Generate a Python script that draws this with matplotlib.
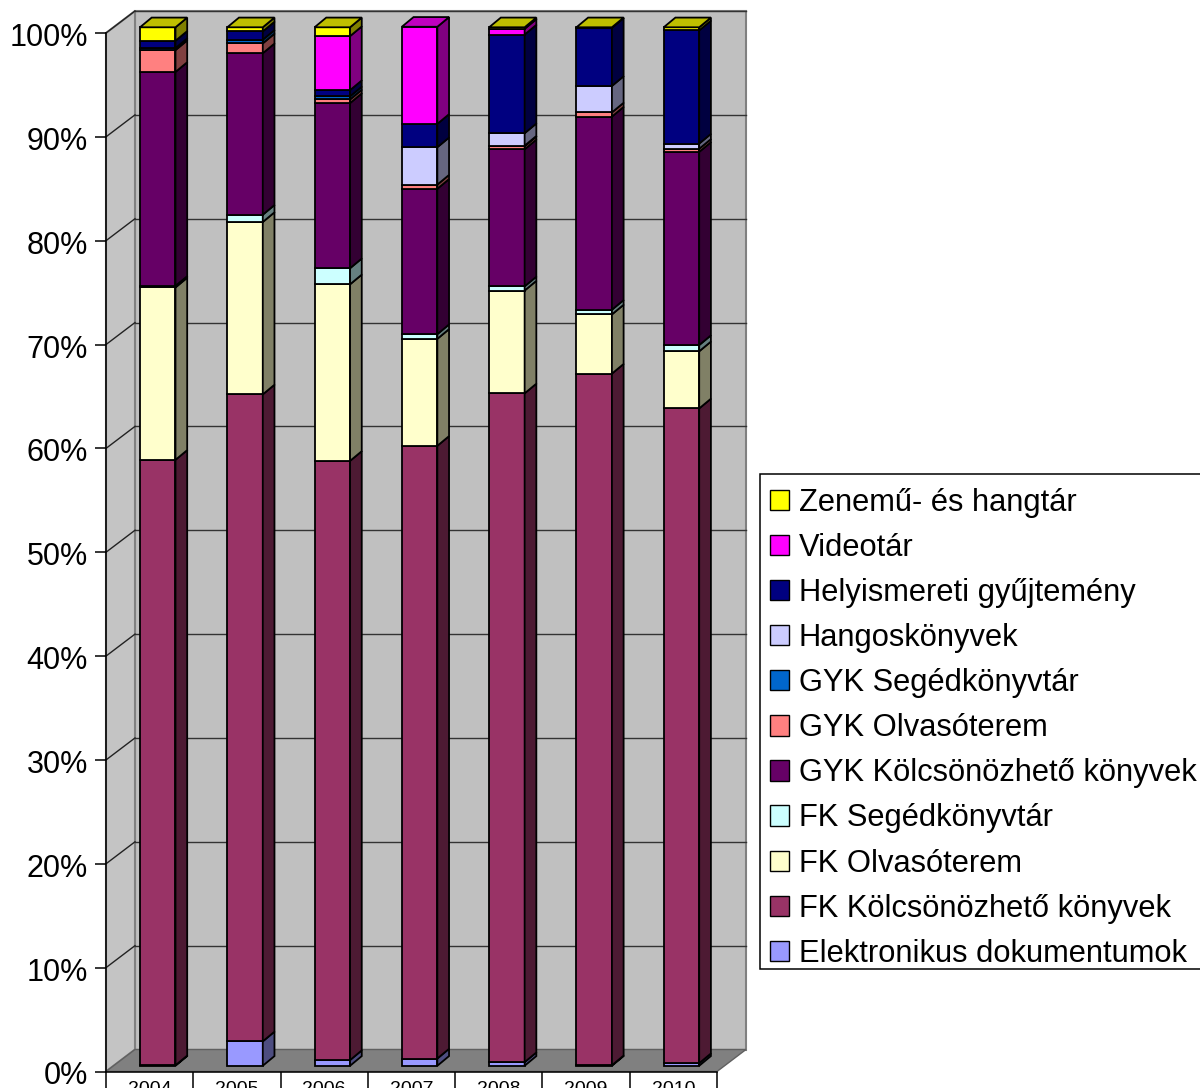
import numpy as np
import matplotlib
matplotlib.use('Agg')
import matplotlib.pyplot as plt
from matplotlib.colors import to_rgb
from matplotlib.patches import Patch, Rectangle
from matplotlib.transforms import ScaledTranslation

plt.rcParams['font.family'] = ['Liberation Sans', 'DejaVu Sans']

years = ['2004', '2005', '2006', '2007', '2008', '2009', '2010']

# százalékos megoszlás évenként
elektronikus = [0.05, 2.35, 0.55, 0.70, 0.35, 0.05, 0.25]
fk_kolcson = [58.3, 62.3, 57.7, 59.0, 64.4, 66.6, 63.05]
fk_olvaso = [16.6, 16.6, 17.0, 10.3, 9.9, 5.7, 5.5]
fk_segedk = [0.15, 0.7, 1.55, 0.45, 0.4, 0.45, 0.6]
gyk_kolcson = [20.6, 15.55, 15.9, 14.0, 13.2, 18.6, 18.6]
gyk_olvaso = [2.1, 0.95, 0.35, 0.4, 0.3, 0.4, 0.3]
gyk_segedk = [0.2, 0.35, 0.3, 0, 0.05, 0, 0]
hangos = [0, 0, 0, 3.6, 1.2, 2.55, 0.5]
helyism = [0.7, 0.8, 0.6, 2.25, 9.5, 5.6, 10.9]
video = [0, 0, 5.2, 9.35, 0.55, 0, 0]
zenemu = [1.3, 0.4, 0.85, 0, 0.15, 0.05, 0.3]

series = [elektronikus, fk_kolcson, fk_olvaso, fk_segedk, gyk_kolcson, gyk_olvaso,
          gyk_segedk, hangos, helyism, video, zenemu]
labels = ['Elektronikus dokumentumok', 'FK Kölcsönözhető könyvek', 'FK Olvasóterem',
          'FK Segédkönyvtár', 'GYK Kölcsönözhető könyvek', 'GYK Olvasóterem',
          'GYK Segédkönyvtár', 'Hangoskönyvek', 'Helyismereti gyűjtemény',
          'Videotár', 'Zenemű- és hangtár']
colors = ['#9999FF', '#993366', '#FFFFCC', '#CCFFFF', '#660066', '#FF8080',
          '#0066CC', '#CCCCFF', '#000080', '#FF00FF', '#FFFF00']

W, H = 1200, 1088
fig = plt.figure(figsize=(W / 100, H / 100), dpi=100)
ax = fig.add_axes([106 / W, 1 - 1071.5 / H, 611 / W, 1038.5 / H])
ax.set_xlim(0, 7)
ax.set_ylim(0, 100)
ax.patch.set_visible(False)

# a 3D hatás eltolásai adategységben
wall_dx, wall_dy = 29 / 87.3, 22 / 10.385
bar_dx, bar_dy = 11.7 / 87.3, 9.7 / 10.385
bar_left, bar_w, bar_base = 34 / 87.3, 35.5 / 87.3, 0.55

# falak, padló, rácsvonalak
ax.fill([wall_dx, 7 + wall_dx, 7 + wall_dx, wall_dx],
        [wall_dy, wall_dy, 100 + wall_dy, 100 + wall_dy],
        fc='#C0C0C0', ec='#808080', lw=1.5, clip_on=False, zorder=1)
ax.fill([0, wall_dx, wall_dx, 0], [0, wall_dy, 100 + wall_dy, 100],
        fc='#C4C4C4', ec='#808080', lw=1.5, clip_on=False, zorder=1)
ax.fill([0, 7, 7 + wall_dx, wall_dx], [0, 0, wall_dy, wall_dy],
        fc='#808080', ec='#606060', lw=1, clip_on=False, zorder=1.2)
for v in range(10, 101, 10):
    ax.plot([wall_dx, 7 + wall_dx], [v + wall_dy, v + wall_dy], color='#333333', lw=1,
            clip_on=False, zorder=1.5)
    ax.plot([0, wall_dx], [v, v + wall_dy], color='#222222', lw=1, clip_on=False, zorder=1.5)

# oszlopok
for i in range(len(years)):
    x0 = i + bar_left
    x1 = x0 + bar_w
    bottom = bar_base
    top_color = None
    for vals, col in zip(series, colors):
        v = vals[i]
        if v <= 0:
            continue
        rgb = np.array(to_rgb(col))
        ax.bar(x0, v, bar_w, bottom=bottom, align='edge', color=col, edgecolor='black',
               linewidth=1.3, clip_on=False, zorder=3)
        ax.fill([x1, x1 + bar_dx, x1 + bar_dx, x1],
                [bottom, bottom + bar_dy, bottom + v + bar_dy, bottom + v],
                fc=rgb * 0.5, ec='black', lw=1.3, clip_on=False, zorder=3)
        bottom += v
        top_color = rgb
    ax.fill([x0, x1, x1 + bar_dx, x0 + bar_dx],
            [bottom, bottom, bottom + bar_dy, bottom + bar_dy],
            fc=top_color * 0.75, ec='black', lw=1.3, clip_on=False, zorder=3)

# tengelyek
for s in ['top', 'right']:
    ax.spines[s].set_visible(False)
for s in ['left', 'bottom']:
    ax.spines[s].set_linewidth(1.1)
    ax.spines[s].set_zorder(4)
ax.set_yticks(range(0, 101, 10))
ax.set_yticklabels([f'{v}%' for v in range(0, 101, 10)], fontsize=22)
ax.tick_params(axis='y', length=8, width=1.1, pad=5)
# a címkék 1 px-lel lejjebb
nudge = ScaledTranslation(0, -1.5 / 100, fig.dpi_scale_trans)
for lab in ax.get_yticklabels():
    lab.set_transform(lab.get_transform() + nudge)
ax.set_xticks(range(8))
ax.set_xticklabels([])
ax.tick_params(axis='x', which='major', length=14, width=1.1)
ax.set_xticks(np.arange(7) + 0.5, minor=True)
ax.set_xticklabels(years, minor=True, fontsize=14)
ax.tick_params(axis='x', which='minor', length=0, pad=7)

# jelmagyarázat: keret külön, a jobb széle kilóg a képből
fig.add_artist(Rectangle((760 / W, 1 - 969 / H), 460 / W, 495 / H, transform=fig.transFigure,
                         fc='white', ec='black', lw=1.1, zorder=4))
handles = [Patch(fc=c, ec='black', lw=1) for c in colors[::-1]]
leg = fig.legend(handles, labels[::-1], loc='upper left', fontsize=22.2, frameon=False,
                 bbox_to_anchor=(759.5 / W, 1 - 477.5 / H), bbox_transform=fig.transFigure,
                 borderaxespad=0, handlelength=0.64, handleheight=0.64, handletextpad=0.3,
                 labelspacing=0.49, borderpad=0.33)
leg.set_zorder(5)

fig.savefig('out.png', dpi=100)
